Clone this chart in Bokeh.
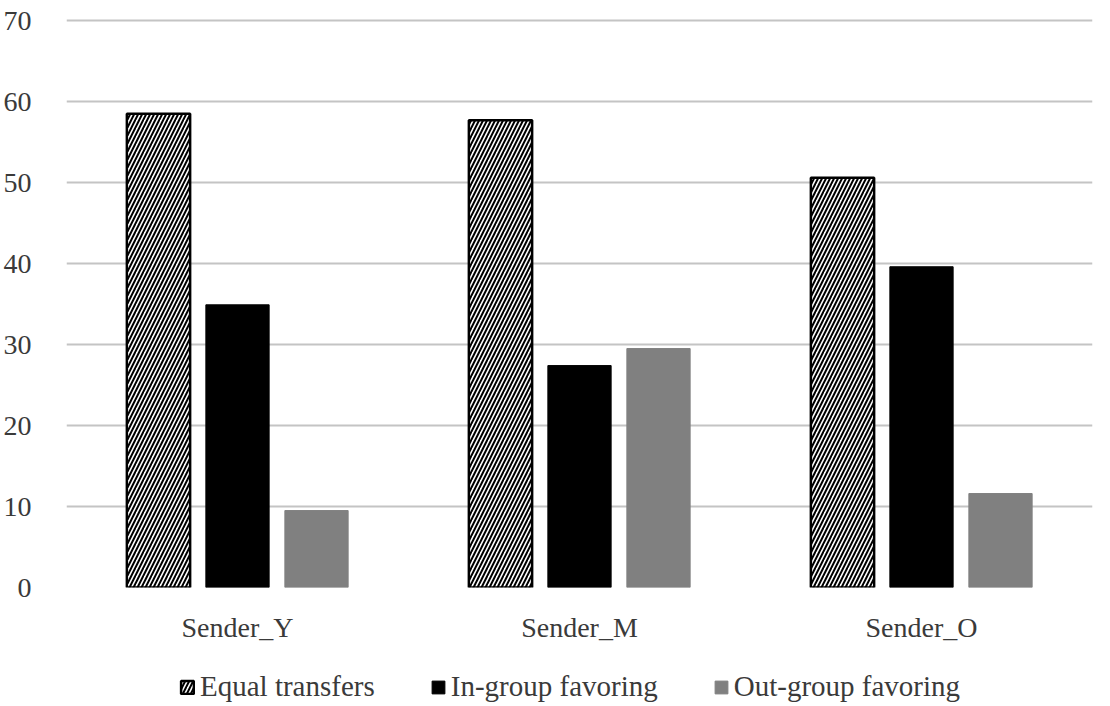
from bokeh.plotting import figure
from bokeh.layouts import column
from bokeh.models import ColumnDataSource, Legend, LegendItem, FactorRange, SingleIntervalTicker, Range1d
from bokeh.transform import dodge
from bokeh.embed import file_html
from bokeh.resources import INLINE

categories = ["Sender_Y", "Sender_M", "Sender_O"]
equal_transfers = [58.5, 57.7, 50.6]
in_group = [34.9, 27.4, 39.6]
out_group = [9.5, 29.5, 11.6]
series_names = ["Equal transfers", "In-group favoring", "Out-group favoring"]

src = ColumnDataSource(dict(cat=categories, eq=equal_transfers, ing=in_group, outg=out_group))

FONT = "Liberation Serif"
TXT = "#3a3a3a"
EQ_STYLE = dict(fill_color="white", line_color="black", line_width=2.5,
                hatch_pattern="/", hatch_color="black", hatch_scale=8, hatch_weight=2)
IN_STYLE = dict(fill_color="black", line_color="black", line_width=1)
OUT_STYLE = dict(fill_color="#808080", line_color="#808080", line_width=1)

p = figure(x_range=FactorRange(*categories, range_padding=0), y_range=Range1d(0, 70.25),
           frame_width=1026, frame_height=569, output_backend="svg", toolbar_location=None,
           min_border_left=66, min_border_right=10, min_border_top=18, min_border_bottom=58)
p.outline_line_color = None

bw = 0.185
p.vbar(x=dodge("cat", -0.231, range=p.x_range), top="eq", width=bw, source=src, **EQ_STYLE)
p.vbar(x=dodge("cat", 0.0, range=p.x_range), top="ing", width=bw, source=src, **IN_STYLE)
p.vbar(x=dodge("cat", 0.231, range=p.x_range), top="outg", width=bw, source=src, **OUT_STYLE)

p.xgrid.grid_line_color = None
p.ygrid.grid_line_color = "#c4c4c4"
p.ygrid.grid_line_width = 2
p.yaxis.ticker = SingleIntervalTicker(interval=10)
for ax in (p.xaxis[0], p.yaxis[0]):
    ax.axis_line_color = None
    ax.major_tick_line_color = None
    ax.minor_tick_line_color = None
    ax.major_label_text_font = FONT
    ax.major_label_text_font_size = "28px"
    ax.major_label_text_color = TXT
p.yaxis.major_label_standoff = 29
p.xaxis.major_label_standoff = 18

# legend strip below the chart (its swatch renderers are zero-size, so only the legend shows)
lf = figure(x_range=Range1d(0, 1), y_range=Range1d(0, 1), width=1102, height=61,
            output_backend="svg", toolbar_location=None,
            min_border_left=0, min_border_right=0, min_border_top=0, min_border_bottom=0)
lf.axis.visible = False
lf.grid.visible = False
lf.outline_line_color = None
swatch = ColumnDataSource(dict(x=[0.0], top=[0.0]))
l1 = lf.vbar(x="x", top="top", bottom=0, width=0, source=swatch, **EQ_STYLE)
l2 = lf.vbar(x="x", top="top", bottom=0, width=0, source=swatch, **IN_STYLE)
l3 = lf.vbar(x="x", top="top", bottom=0, width=0, source=swatch, **OUT_STYLE)

legend = Legend(items=[LegendItem(label=series_names[0], renderers=[l1]),
                       LegendItem(label=series_names[1], renderers=[l2]),
                       LegendItem(label=series_names[2], renderers=[l3])],
                orientation="horizontal", location=(113, 3),
                label_text_font=FONT, label_text_font_size="29px", label_text_color=TXT,
                glyph_width=16, glyph_height=16, spacing=55, label_standoff=5,
                border_line_color=None, background_fill_alpha=0, padding=0, margin=0)
lf.add_layout(legend, "center")

layout = column(p, lf, spacing=0)
open("out.html", "w").write(file_html(layout, INLINE))
